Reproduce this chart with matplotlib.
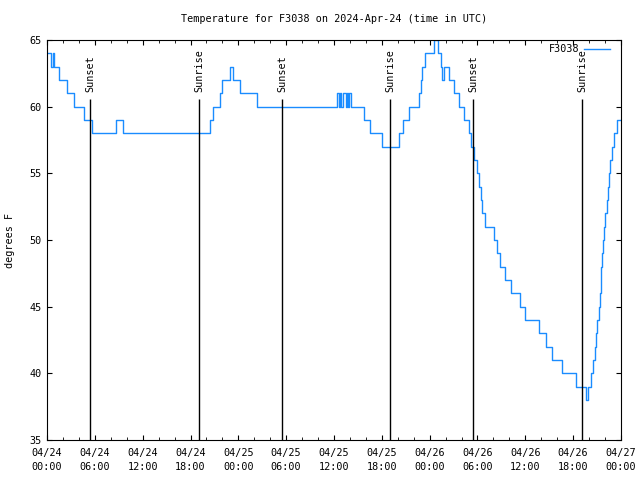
import matplotlib
matplotlib.use("Agg")
import matplotlib.pyplot as plt

# hours since 04/24 00:00 UTC where the reading changes, and the new reading (deg F)
hours = [0.0, 0.5, 0.75, 0.9, 1.45, 2.55, 3.4, 4.7, 5.6, 8.65, 9.5,
         20.45, 20.8, 21.7, 22.0, 22.9, 23.3, 24.2, 26.3,
         36.4, 36.6, 36.75, 36.9, 37.1, 37.45, 37.6, 37.75, 37.9, 38.1,
         39.75, 40.5, 42.05, 44.2, 44.7, 45.4, 46.7, 46.9, 47.1, 47.4, 48.6,
         49.1, 49.4, 49.6, 49.85, 50.45, 51.05, 51.7, 52.35, 52.95, 53.2, 53.5,
         53.9, 54.15, 54.4, 54.6, 54.9, 56.1, 56.4, 56.85, 57.45, 58.2, 59.3,
         59.95, 61.7, 62.55, 63.35, 64.6, 66.4, 67.55, 67.8, 68.2, 68.5, 68.7,
         68.9, 69.05, 69.25, 69.35, 69.45, 69.55, 69.65, 69.78, 69.92, 70.05,
         70.2, 70.35, 70.5, 70.65, 70.9, 71.15, 71.45, 71.9]
temps = [64, 63, 64, 63, 62, 61, 60, 59, 58, 59, 58,
         59, 60, 61, 62, 63, 62, 61, 60,
         61, 60, 61, 60, 61, 60, 61, 60, 61, 60,
         59, 58, 57, 58, 59, 60, 61, 62, 63, 64, 65,
         64, 63, 62, 63, 62, 61, 60, 59, 58, 57, 56,
         55, 54, 53, 52, 51, 50, 49, 48, 47, 46, 45,
         44, 43, 42, 41, 40, 39, 38, 39, 40, 41, 42,
         43, 44, 45, 46, 47, 48, 49, 50, 51, 52,
         53, 54, 55, 56, 57, 58, 59, 59]

sun_hours = [5.45, 19.1, 29.5, 43.05, 53.48, 67.15]
sun_labels = ["Sunset", "Sunrise", "Sunset", "Sunrise", "Sunset", "Sunrise"]

tick_hours = list(range(0, 73, 6))
tick_labels = ["04/24\n00:00", "04/24\n06:00", "04/24\n12:00", "04/24\n18:00",
               "04/25\n00:00", "04/25\n06:00", "04/25\n12:00", "04/25\n18:00",
               "04/26\n00:00", "04/26\n06:00", "04/26\n12:00", "04/26\n18:00",
               "04/27\n00:00"]

plt.rcParams["font.family"] = "DejaVu Sans Mono"
plt.rcParams["font.size"] = 7.3

fig = plt.figure(figsize=(6.4, 4.8), dpi=100)
ax = fig.add_axes([47/640, 40/480, 574/640, 400/480])

ax.plot(hours, temps, drawstyle="steps-post", color="#1a8cff", lw=1.0, label="F3038")

for h, lab in zip(sun_hours, sun_labels):
    ax.vlines(h, 35, 60.55, color="black", lw=1.0)
    ax.text(h, 61.1, lab, rotation=90, ha="center", va="bottom")

ax.set_xlim(0, 72)
ax.set_ylim(35, 65)
ax.set_xticks(tick_hours)
ax.set_xticklabels(tick_labels, linespacing=1.5)
ax.set_xticks(range(0, 73, 2), minor=True)
ax.set_yticks(range(35, 66, 5))
ax.tick_params(which="both", direction="in", top=True, right=True)
ax.tick_params(which="major", length=3.5, pad=6)
ax.tick_params(which="minor", length=2)
ax.tick_params(axis="y", pad=4)

ax.set_ylabel("degrees F", labelpad=10)
ax.set_title("Temperature for F3038 on 2024-Apr-24 (time in UTC)", fontsize=7.3, pad=13)
ax.legend(loc="upper right", bbox_to_anchor=(0.988, 1.0), markerfirst=False,
          frameon=False, handlelength=2.6, borderaxespad=0, handletextpad=0.4)

plt.savefig("out.png", dpi=100)
